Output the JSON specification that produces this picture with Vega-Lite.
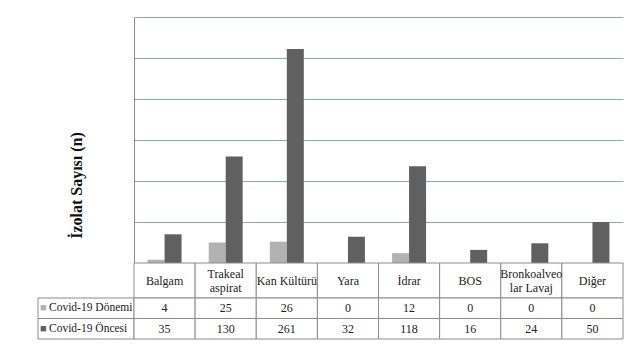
{
  "$schema": "https://vega.github.io/schema/vega-lite/v6.json",
  "padding": {"left": 37, "top": 17, "right": 13, "bottom": 10},
  "background": "white",
  "config": {"view": {"stroke": null}},
  "spacing": 0,
  "bounds": "flush",
  "align": "each",
  "columns": 2,
  "datasets": {
    "d": [
      {"cat": "Balgam", "period": "Covid-19 Dönemi", "n": 4},
      {"cat": "Balgam", "period": "Covid-19 Öncesi", "n": 35},
      {"cat": "Trakeal\naspirat", "period": "Covid-19 Dönemi", "n": 25},
      {"cat": "Trakeal\naspirat", "period": "Covid-19 Öncesi", "n": 130},
      {"cat": "Kan Kültürü", "period": "Covid-19 Dönemi", "n": 26},
      {"cat": "Kan Kültürü", "period": "Covid-19 Öncesi", "n": 261},
      {"cat": "Yara", "period": "Covid-19 Dönemi", "n": 0},
      {"cat": "Yara", "period": "Covid-19 Öncesi", "n": 32},
      {"cat": "İdrar", "period": "Covid-19 Dönemi", "n": 12},
      {"cat": "İdrar", "period": "Covid-19 Öncesi", "n": 118},
      {"cat": "BOS", "period": "Covid-19 Dönemi", "n": 0},
      {"cat": "BOS", "period": "Covid-19 Öncesi", "n": 16},
      {"cat": "Bronkoalveo\nlar Lavaj", "period": "Covid-19 Dönemi", "n": 0},
      {"cat": "Bronkoalveo\nlar Lavaj", "period": "Covid-19 Öncesi", "n": 24},
      {"cat": "Diğer", "period": "Covid-19 Dönemi", "n": 0},
      {"cat": "Diğer", "period": "Covid-19 Öncesi", "n": 50}
    ]
  },
  "concat": [
    {
      "width": 96, "height": 246,
      "data": {"values": []},
      "mark": "point"
    },
    {
      "width": 489, "height": 246,
      "data": {"name": "d"},
      "mark": {"type": "bar"},
      "encoding": {
        "x": {"field": "cat", "type": "nominal", "sort": null, "scale": {"paddingInner": 0.444, "paddingOuter": 0.222}, "axis": null},
        "xOffset": {"field": "period", "type": "nominal", "sort": null, "scale": {"paddingInner": 0}},
        "y": {"field": "n", "type": "quantitative", "scale": {"domain": [0, 300]},
          "axis": {"values": [0, 50, 100, 150, 200, 250, 300], "labels": false, "ticks": false, "domain": true, "domainColor": "#8c8c8c", "gridColor": "#8aaabb", "gridOpacity": 1,
            "title": "İzolat Sayısı (n)", "titleFont": "Liberation Serif", "titleFontSize": 16, "titleFontWeight": "bold", "titleX": -58, "titleY": 168, "titleBaseline": "middle", "titleColor": "#111"}},
        "color": {"field": "period", "type": "nominal", "sort": null, "scale": {"domain": ["Covid-19 Dönemi", "Covid-19 Öncesi"], "range": ["#b2b2b2", "#606060"]}, "legend": null}
      }
    },
    {
      "width": 96, "height": 35,
      "data": {"values": []},
      "mark": "point"
    },
    {
      "width": 489, "height": 35,
      "data": {"name": "d"},
      "transform": [{"filter": "datum.period == 'Covid-19 Öncesi'"}],
      "encoding": {
        "x": {"field": "cat", "type": "nominal", "sort": null, "axis": null, "scale": {"paddingInner": 0, "paddingOuter": 0}}
      },
      "layer": [
        {"mark": {"type": "rect", "fill": "white", "stroke": "#8c8c8c", "strokeWidth": 1}},
        {"transform": [{"filter": "indexof(datum.cat, '\\n') < 0"}],
          "mark": {"type": "text", "font": "Liberation Serif", "fontSize": 12, "color": "#222"}, "encoding": {"text": {"field": "cat"}}},
        {"transform": [{"filter": "indexof(datum.cat, '\\n') >= 0"}],
          "mark": {"type": "text", "font": "Liberation Serif", "fontSize": 12, "lineBreak": "\n", "lineHeight": 14, "dy": -7, "color": "#222"}, "encoding": {"text": {"field": "cat"}}}
      ]
    },
    {
      "width": 96, "height": 41,
      "data": {"name": "d"},
      "transform": [{"filter": "datum.cat == 'Balgam'"}],
      "encoding": {
        "y": {"field": "period", "type": "nominal", "sort": null, "axis": null, "scale": {"paddingInner": 0, "paddingOuter": 0}}
      },
      "layer": [
        {"mark": {"type": "rect", "fill": "white", "stroke": "#8c8c8c", "strokeWidth": 1}},
        {"mark": {"type": "text", "text": "■", "align": "left", "dx": -46, "fontSize": 11},
          "encoding": {"color": {"field": "period", "type": "nominal", "sort": null, "scale": {"domain": ["Covid-19 Dönemi", "Covid-19 Öncesi"], "range": ["#b2b2b2", "#606060"]}, "legend": null}}},
        {"mark": {"type": "text", "align": "left", "dx": -37, "font": "Liberation Serif", "fontSize": 11.5, "color": "#222"}, "encoding": {"text": {"field": "period"}}}
      ]
    },
    {
      "width": 489, "height": 41,
      "data": {"name": "d"},
      "encoding": {
        "x": {"field": "cat", "type": "nominal", "sort": null, "axis": null, "scale": {"paddingInner": 0, "paddingOuter": 0}},
        "y": {"field": "period", "type": "nominal", "sort": null, "axis": null, "scale": {"paddingInner": 0, "paddingOuter": 0}}
      },
      "layer": [
        {"mark": {"type": "rect", "fill": "white", "stroke": "#8c8c8c", "strokeWidth": 1}},
        {"mark": {"type": "text", "font": "Liberation Serif", "fontSize": 12, "color": "#222"}, "encoding": {"text": {"field": "n"}}}
      ]
    }
  ]
}
